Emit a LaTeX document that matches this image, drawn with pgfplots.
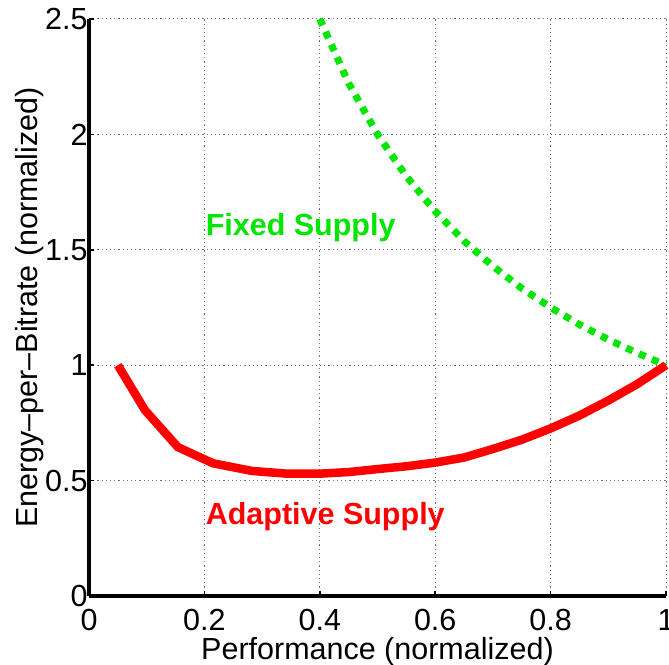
\documentclass[border=0pt]{standalone}
\usepackage{fontspec}
\setmainfont{Liberation Sans}
\usepackage{pgfplots}
\pgfplotsset{compat=1.18}

\definecolor{adaptred}{RGB}{255,0,0}
\definecolor{fixedgreen}{RGB}{0,230,0}

\begin{document}
\begin{tikzpicture}
\begin{axis}[
  scale only axis,
  width=577pt, height=577pt,
  xmin=0, xmax=1, ymin=0, ymax=2.5,
  axis x line=bottom, axis y line=left,
  axis line style={line width=4pt, -},
  xtick={0,0.2,0.4,0.6,0.8,1},
  ytick={0,0.5,1,1.5,2,2.5},
  xticklabels={0,0.2,0.4,0.6,0.8,1},
  yticklabels={0,0.5,1,1.5,2,2.5},
  tick align=inside,
  major tick length=5pt,
  tick style={black, line width=1.5pt},
  grid=major,
  major grid style={black!55, line width=1pt, dash pattern=on 1.2pt off 3pt},
  tick label style={font=\fontsize{30.5}{33}\selectfont},
  xticklabel style={yshift=-10pt},
  yticklabel style={xshift=2pt},
  label style={font=\fontsize{30.5}{33}\selectfont},
  xlabel={Performance (normalized)},
  ylabel={Energy--per--Bitrate (normalized)},
  xlabel style={yshift=1pt},
  ylabel style={yshift=-6pt},
  /pgf/number format/assume math mode=true,
  clip=false,
]
% fixed supply voltage
\addplot[fixedgreen, line width=7pt, dash pattern=on 7pt off 7pt] coordinates {
  (0.40,2.500) (0.45,2.222) (0.50,2.000) (0.55,1.818) (0.60,1.667)
  (0.65,1.538) (0.70,1.429) (0.75,1.333) (0.80,1.250) (0.85,1.176)
  (0.90,1.111) (0.95,1.053) (1.00,1.000)
};
% adaptive supply voltage
\addplot[adaptred, line width=8.5pt, line join=miter] coordinates {
  (0.050,1.000) (0.097,0.805) (0.154,0.645) (0.215,0.575) (0.282,0.542)
  (0.343,0.530) (0.400,0.530) (0.450,0.537) (0.500,0.550) (0.550,0.562)
  (0.600,0.578) (0.650,0.600) (0.700,0.637) (0.750,0.677) (0.800,0.726)
  (0.850,0.782) (0.900,0.847) (0.950,0.918) (1.000,1.000)
};
\node[anchor=west, inner sep=0pt, text=fixedgreen, font=\bfseries\fontsize{30.5}{33}\selectfont] at (axis cs:0.202,1.595) {Fixed Supply};
\node[anchor=west, inner sep=0pt, text=adaptred, font=\bfseries\fontsize{30.5}{33}\selectfont] at (axis cs:0.202,0.342) {Adaptive Supply};
\end{axis}
\pgfresetboundingbox
\path (current axis.south west) ++(-89pt,-68pt) rectangle ++(669pt,664pt);
\end{tikzpicture}
\end{document}
